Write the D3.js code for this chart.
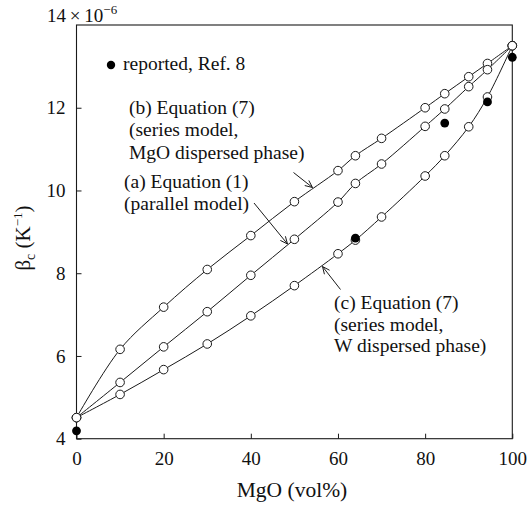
<!DOCTYPE html>
<html>
<head>
<meta charset="utf-8">
<script src="https://cdn.jsdelivr.net/npm/d3@7"></script>
<style>
  html, body { margin: 0; padding: 0; background: #fff; }
</style>
</head>
<body>
<svg id="chart" width="527" height="509"></svg>
<script>
// ---- data ----
const mgo = [0, 10, 20, 30, 40, 50, 60, 64, 70, 80, 84.5, 90, 94.3, 100];
const seriesB = [4.51, 6.16, 7.18, 8.09, 8.91, 9.73, 10.48, 10.84, 11.26, 12.0, 12.34, 12.75, 13.07, 13.5];
const seriesA = [4.51, 5.36, 6.22, 7.07, 7.95, 8.82, 9.72, 10.17, 10.64, 11.55, 11.97, 12.51, 12.92, 13.5];
const seriesC = [4.51, 5.07, 5.67, 6.29, 6.97, 7.70, 8.47, 8.80, 9.36, 10.35, 10.84, 11.54, 12.26, 13.5];
const reportedX = [0, 64, 84.5, 94.3, 100];
const reportedY = [4.19, 8.85, 11.63, 12.14, 13.22];
const xTicks = [0, 20, 40, 60, 80, 100];
const yTicks = [4, 6, 8, 10, 12];

(function () {
const FONT = '"Liberation Serif"';
const svg = d3.select("#chart");
const pLeft = 76.5, pRight = 512.3, pTop = 25, pBottom = 438.7;
const x = d3.scaleLinear().domain([0, 100]).range([pLeft, pRight]);
const y = d3.scaleLinear().domain([4, 14]).range([pBottom, pTop]);
const ink = "#1a1a1a";
const TS = 19, AS = 19.5;

// frame
svg.append("rect").attr("x", pLeft).attr("y", pTop)
  .attr("width", pRight - pLeft).attr("height", pBottom - pTop)
  .attr("fill", "none").attr("stroke", ink).attr("stroke-width", 1.1);

// x axis (inward ticks)
const xAxis = d3.axisBottom(x).tickValues(xTicks).tickSizeInner(-5).tickSizeOuter(0).tickPadding(13);
const gx = svg.append("g").attr("transform", `translate(0,${pBottom})`).call(xAxis);
gx.select(".domain").remove();
gx.selectAll("line").attr("stroke", ink);
gx.selectAll("text").attr("font-size", TS);

// y axis (inward ticks)
const yAxis = d3.axisLeft(y).tickValues(yTicks).tickSizeInner(-5).tickSizeOuter(0).tickPadding(11);
const gy = svg.append("g").attr("transform", `translate(${pLeft},0)`).call(yAxis);
gy.select(".domain").remove();
gy.selectAll("line").attr("stroke", ink);
gy.selectAll("text").attr("font-size", TS);

// top label 14 x 10^-6
const t14 = svg.append("text").attr("x", 47).attr("y", 22).attr("font-size", TS);
t14.append("tspan").text("14\u2009×\u200910");
t14.append("tspan").attr("font-size", 13).attr("dy", -8).text("\u22126");

// axis titles
svg.append("text").attr("x", 292).attr("y", 497)
  .attr("text-anchor", "middle").attr("font-size", 21.5).text("MgO (vol%)");
const yt = svg.append("text").attr("transform", `translate(30,238) rotate(-90)`)
  .attr("text-anchor", "middle").attr("font-size", 21);
yt.append("tspan").text("β");
yt.append("tspan").attr("font-size", 14).attr("dy", 5).text("c");
yt.append("tspan").attr("dy", -5).text(" (K");
yt.append("tspan").attr("font-size", 13).attr("dy", -8).text("\u22121");
yt.append("tspan").attr("dy", 8).text(")");

// lines
const line = d3.line().x(d => x(d[0])).y(d => y(d[1])).curve(d3.curveCatmullRom.alpha(0.5));
const allSeries = [seriesB, seriesA, seriesC];
allSeries.forEach(s => {
  svg.append("path").datum(mgo.map((m, i) => [m, s[i]]))
    .attr("d", line).attr("fill", "none").attr("stroke", ink).attr("stroke-width", 1);
});
allSeries.forEach(s => {
  svg.append("g").selectAll("circle").data(mgo.map((m, i) => [m, s[i]])).join("circle")
    .attr("cx", d => x(d[0])).attr("cy", d => y(d[1])).attr("r", 4.3)
    .attr("fill", "#fff").attr("stroke", ink).attr("stroke-width", 1);
});
// reported
svg.append("g").selectAll("circle").data(reportedX.map((m, i) => [m, reportedY[i]])).join("circle")
  .attr("cx", d => x(d[0])).attr("cy", d => y(d[1])).attr("r", 4.4).attr("fill", "#000");

// legend
svg.append("circle").attr("cx", 111).attr("cy", 65).attr("r", 4.2).attr("fill", "#000");
svg.append("text").attr("x", 123).attr("y", 70).attr("font-size", AS).text("reported, Ref. 8");

// annotations
function block(x0, y0, lines, lh) {
  const t = svg.append("text").attr("font-size", AS);
  lines.forEach((l, i) => t.append("tspan").attr("x", x0).attr("y", y0 + i * lh).text(l));
}
block(129, 114, ["(b) Equation (7)", "(series model,", "MgO dispersed phase)"], 22.4);
block(124, 188, ["(a) Equation (1)", "(parallel model)"], 21.5);
block(334, 309, ["(c) Equation (7)", "(series model,", "W dispersed phase)"], 21.7);

function arrow(x1, y1, x2, y2) {
  svg.append("line").attr("x1", x1).attr("y1", y1).attr("x2", x2).attr("y2", y2)
    .attr("stroke", ink).attr("stroke-width", 1);
  const ang = Math.atan2(y2 - y1, x2 - x1), L = 8, a = 0.42;
  const p1 = [x2 - L * Math.cos(ang - a), y2 - L * Math.sin(ang - a)];
  const p2 = [x2 - L * Math.cos(ang + a), y2 - L * Math.sin(ang + a)];
  svg.append("path").attr("d", `M${p1}L${x2},${y2}L${p2}`)
    .attr("fill", "none").attr("stroke", ink).attr("stroke-width", 1);
}
arrow(293.5, 172.5, 312.5, 187.5);
arrow(254, 203, 287.5, 244);
arrow(340.5, 289.5, 322.5, 266.5);

// fonts: set on every text element directly
svg.selectAll("g").attr("font-family", null);
svg.selectAll("text").attr("font-family", FONT).style("font-family", FONT).attr("fill", "#111");
})();
</script>
</body>
</html>
